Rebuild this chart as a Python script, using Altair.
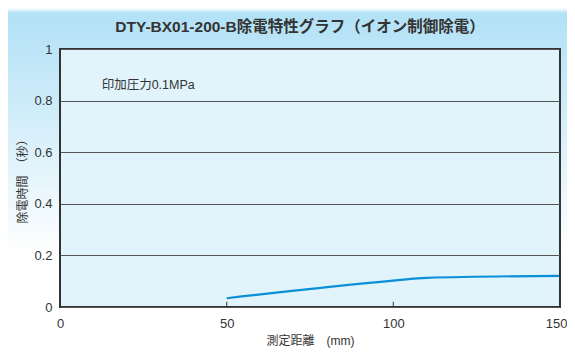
import altair as alt
import pandas as pd

# ---- data ----
distance_mm = [50, 100, 110, 150]
discharge_time_s = [0.034, 0.102, 0.113, 0.121]
x_ticks = [0, 50, 100, 150]
y_ticks = [0, 0.2, 0.4, 0.6, 0.8, 1]
title_text = ["DTY-BX01-200-B除電特性グラフ（イオン制御除電）"]
x_title = "測定距離　(mm)"
y_title = "除電時間　（秒）"
note_text = ["印加圧力0.1MPa"]
note_x = [12.5]
note_y = [0.86]

W, H = 500, 258
PAD = {"left": 52, "top": 41, "right": 7, "bottom": 41}
FONT = "Liberation Sans, Noto Sans CJK JP, sans-serif"

df = pd.DataFrame({"distance": distance_mm, "time": discharge_time_s})
one = pd.DataFrame({"k": [0]})
ticks_df = pd.DataFrame({"x": x_ticks})
note_df = pd.DataFrame({"x": note_x, "y": note_y, "t": note_text})
title_df = pd.DataFrame({"t": title_text})

xscale = alt.Scale(domain=[0, 150], nice=False, zero=False)
yscale = alt.Scale(domain=[0, 1], nice=False)

xaxis = alt.Axis(values=x_ticks, title=x_title, grid=False, domain=False, ticks=False,
                 labelFlush=False,
                 labelAlign={"condition": {"test": "datum.value == 150", "value": "right"},
                             "value": "center"},
                 labelOffset={"condition": {"test": "datum.value == 150", "value": 7},
                              "value": 0},
                 labelFontSize=13, labelColor="#333333", labelPadding=10,
                 labelFont=FONT, titleFont=FONT, titleFontSize=12, titleColor="#333333",
                 titleFontWeight="normal", titleBaseline="alphabetic", titleY=37, zindex=1)
yaxis = alt.Axis(values=y_ticks, format="~g", title=y_title, grid=True, gridColor="#555555",
                 gridWidth=1.2, domain=False, ticks=False, labelFlush=False, labelFontSize=13,
                 labelColor="#333333", labelPadding=8, labelFont=FONT, titleFont=FONT,
                 titleFontSize=12, titleColor="#333333", titleFontWeight="normal",
                 titlePadding=4, zindex=1)

bg = alt.Chart(one).mark_rect(
    color=alt.LinearGradient(
        gradient="linear",
        stops=[alt.GradientStop(color="#ffffff", offset=0),
               alt.GradientStop(color="#b2e1f6", offset=0.015),
               alt.GradientStop(color="#cfecf9", offset=0.3),
               alt.GradientStop(color="#ffffff", offset=0.72)],
        x1=0.5, x2=0.5, y1=0, y2=1),
).encode(x=alt.value(-PAD["left"]), x2=alt.value(W + PAD["right"]),
         y=alt.value(-PAD["top"]), y2=alt.value(H + PAD["bottom"]))

plot_fill = alt.Chart(one).mark_rect(color="#e1f3fb").encode(
    x=alt.datum(0, scale=xscale, axis=xaxis, type="quantitative"),
    x2=alt.datum(150),
    y=alt.datum(0, scale=yscale, axis=yaxis, type="quantitative"),
    y2=alt.datum(1),
)

line = alt.Chart(df).mark_line(color="#0a8fd8", strokeWidth=2.2, interpolate="monotone").encode(
    x=alt.X("distance:Q", scale=xscale, axis=xaxis),
    y=alt.Y("time:Q", scale=yscale, axis=yaxis),
)

tick_marks = alt.Chart(ticks_df).mark_rule(color="#555555", strokeWidth=1.2).encode(
    x=alt.X("x:Q", scale=xscale),
    y=alt.datum(0),
    y2=alt.datum(0.02),
)

note = alt.Chart(note_df).mark_text(align="left", baseline="middle", fontSize=12.5,
                                     color="#333333", font=FONT).encode(
    x=alt.X("x:Q", scale=xscale), y=alt.Y("y:Q", scale=yscale), text="t:N")

title = alt.Chart(title_df).mark_text(align="center", baseline="middle", fontSize=15.5,
                                      fontWeight="bold", color="#333333", font=FONT).encode(
    x=alt.value(W / 2 - 10), y=alt.value(-22), text="t:N")

border = alt.Chart(one).mark_rect(fill="transparent", stroke="#333333", strokeWidth=2).encode(
    x=alt.datum(0), x2=alt.datum(150), y=alt.datum(0), y2=alt.datum(1),
)

chart = alt.layer(bg, plot_fill, tick_marks, line, note, border, title).properties(
    width=W, height=H,
    padding=PAD,
    autosize=alt.AutoSizeParams(type="none"),
).configure_view(stroke=None)

chart.save("out.html", embed_options={"renderer": "svg", "actions": False})
